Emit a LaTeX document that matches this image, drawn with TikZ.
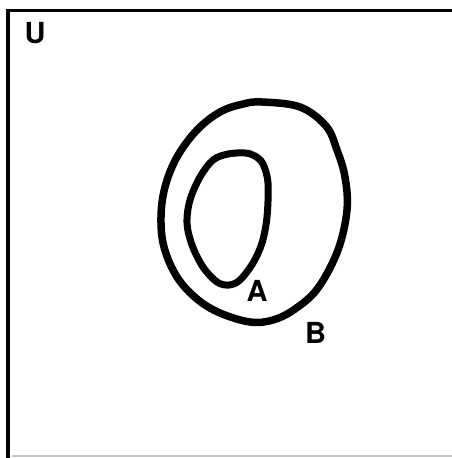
\documentclass[tikz,border=0pt]{standalone}
\usepackage{fontspec}
\setmainfont{TeX Gyre Heros}
\begin{document}
\begin{tikzpicture}[x=1pt,y=-1pt,
  frame/.style={line width=3.5pt,line cap=butt},
  setline/.style={line width=7.5pt,line join=round},
  lbl/.style={inner sep=0pt,font=\fontsize{29}{29}\selectfont\bfseries}]
\useasboundingbox (0,0) rectangle (452,458);
% universe frame
\coordinate (tl) at (8,10.5);
\coordinate (tr) at (452,10.5);
\coordinate (bl) at (8,458);
\draw[frame] (8,9) -- (bl);
\draw[frame] (6.25,10.5) -- (tr);
\draw[gray!45,line width=1.2pt] (12,456) -- (452,456);
% set B
\draw[setline] plot[smooth cycle,tension=0.6] coordinates {
 (262,102) (300,107) (326,126) (337,150) (345,177) (347,210) (338,250)
 (318,288) (295,309) (273,320) (250,322) (220,313) (197,299) (177,277)
 (164,247) (161,217) (165,187) (177,157) (197,130) (220,112) (243,104)};
% set A
\draw[line width=7pt,line join=round] plot[smooth cycle,tension=0.55] coordinates {
 (245,153) (255,156) (263,164) (268,183) (267,217) (262,243) (253,263)
 (240,280) (229,285) (217,282) (203,267) (192,245) (187,223) (190,200)
 (200,177) (213,160) (228,154)};
% labels
\node[lbl] (U) at (35,33) {U};
\node[lbl] (A) at (257,291) {A};
\node[lbl] (B) at (315.5,332.5) {B};
\end{tikzpicture}
\end{document}
